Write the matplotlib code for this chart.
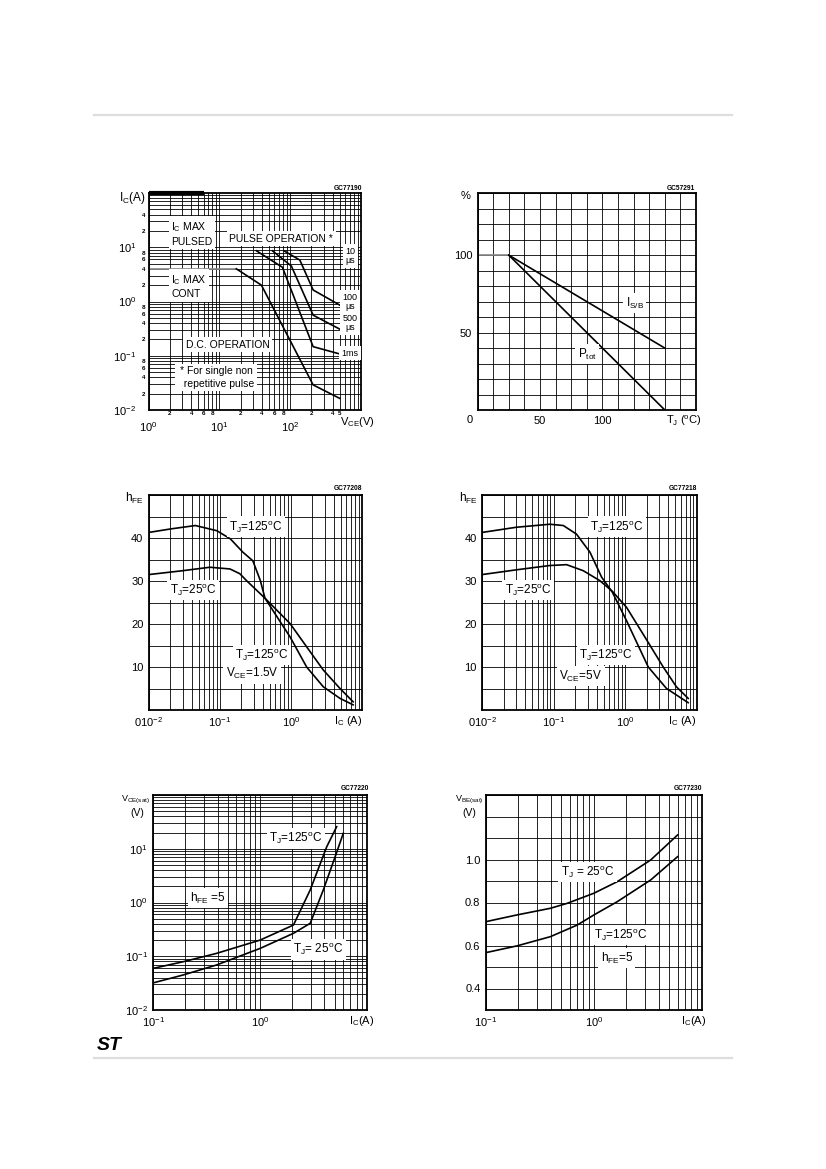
import numpy as np
import matplotlib
matplotlib.use('Agg')
import matplotlib.pyplot as plt
from matplotlib.ticker import LogLocator, FixedLocator, FuncFormatter, NullFormatter
from matplotlib.lines import Line2D

plt.rcParams['font.family'] = ['Liberation Sans', 'DejaVu Sans']
plt.rcParams['mathtext.default'] = 'regular'

# ---------------- data ----------------
# Chart 1: safe operating area (VCE [V] vs IC [A])
soa_icmax_cont_v = [1, 17.4]
soa_icmax_cont_i = [4, 4]
soa_dc_v = [17.4, 39.3, 211, 500]
soa_dc_i = [4, 2.0, 0.029, 0.0164]
soa_1ms_v = [33.4, 77.8, 211, 500]
soa_1ms_i = [8.6, 4.27, 0.147, 0.108]
soa_500us_v = [56.2, 104, 211, 500]
soa_500us_i = [8.6, 4.5, 0.56, 0.31]
soa_100us_v = [82, 137, 211, 500]
soa_100us_i = [8.6, 5.8, 1.63, 0.86]
soa_pulsed_top_v = [1, 6]
soa_pulsed_top_i = [100, 100]

# Chart 2: derating (TJ [C] vs %)
der_flat_t = [0, 25]
der_flat_p = [100, 100]
der_ptot_t = [25, 150]
der_ptot_p = [100, 0]
der_isb_t = [25, 150]
der_isb_p = [100, 40]

# Chart 3: hFE, VCE = 1.5 V
h15_ic_125 = [0.01, 0.02, 0.045, 0.09, 0.14, 0.21, 0.29, 0.37, 0.43, 0.97, 1.66, 2.85, 4.9, 7.5]
h15_125 = [41.3, 42.1, 42.9, 41.7, 39.8, 36.7, 34.7, 30.1, 26.0, 17.0, 10.0, 5.4, 2.7, 1.2]
h15_ic_25 = [0.01, 0.03, 0.072, 0.138, 0.19, 0.236, 0.43, 0.97, 1.66, 2.85, 4.9, 7.5]
h15_25 = [31.5, 32.4, 33.2, 32.8, 31.7, 30.1, 26.0, 20.1, 14.7, 9.3, 5.0, 1.9]

# Chart 4: hFE, VCE = 5 V
h5_ic_125 = [0.01, 0.03, 0.088, 0.136, 0.208, 0.321, 0.467, 0.66, 1.04, 2.1, 3.78, 7.6]
h5_125 = [41.3, 42.5, 43.2, 42.9, 40.9, 36.7, 30.9, 27.4, 20.8, 10.0, 5.0, 1.7]
h5_ic_25 = [0.01, 0.03, 0.088, 0.151, 0.258, 0.44, 0.66, 1.04, 1.88, 3.4, 5.2, 7.6]
h5_25 = [31.5, 32.6, 33.6, 33.8, 32.4, 30.1, 27.6, 23.9, 17.0, 10.0, 5.4, 2.7]

# Chart 5: VCE(sat), hFE = 5
vce_ic_125 = [0.1, 0.19, 0.39, 1.0, 2.05, 2.94, 4.2, 5.2]
vce_125 = [0.0596, 0.079, 0.113, 0.2, 0.381, 1.71, 10.9, 25.7]
vce_ic_25 = [0.1, 0.19, 0.39, 1.0, 2.05, 2.94, 3.9, 5.1, 6.0]
vce_25 = [0.032, 0.0448, 0.0687, 0.14, 0.267, 0.41, 1.71, 7.65, 19.4]

# Chart 6: VBE(sat), hFE = 5
vbe_ic_25 = [0.1, 0.193, 0.395, 0.565, 1.0, 1.65, 3.37, 5.97]
vbe_25 = [0.711, 0.742, 0.773, 0.796, 0.843, 0.897, 0.998, 1.114]
vbe_ic_125 = [0.1, 0.193, 0.395, 0.70, 1.0, 1.65, 3.37, 5.97]
vbe_125 = [0.567, 0.598, 0.641, 0.695, 0.742, 0.804, 0.905, 1.013]

# ---------------- figure ----------------
W, H = 826, 1169
fig = plt.figure(figsize=(W / 100, H / 100), dpi=100)
fig.patch.set_facecolor('white')


def add_ax(l, r, t, b):
    return fig.add_axes([l / W, 1 - b / H, (r - l) / W, (b - t) / H])


def ftxt(px, py, s, **kw):
    kw.setdefault('fontsize', 7.5)
    fig.text(px / W, 1 - py / H, s, **kw)


def style(ax):
    for s in ax.spines.values():
        s.set_linewidth(1.3)
        s.set_color('black')
    ax.tick_params(which='both', length=0, labelsize=7.5, pad=4)
    ax.grid(which='both', color='black', lw=0.6)
    ax.set_axisbelow(True)


BOX = dict(facecolor='white', edgecolor='none', pad=1.8)
LW = 1.2


def lbl(ax, x, y, s, ha='center', fs=7.5, **kw):
    ax.text(x, y, s, ha=ha, va='center', fontsize=fs, bbox=BOX, zorder=5, **kw)


# page rules
fig.add_artist(Line2D([94 / W, 732 / W], [1 - 115 / H, 1 - 115 / H], color='#dddddd', lw=1.6))
fig.add_artist(Line2D([94 / W, 732 / W], [1 - 1058 / H, 1 - 1058 / H], color='#dddddd', lw=1.6))
ftxt(109, 1046, 'ST', fontsize=14, fontweight='black', fontstyle='italic', ha='center', va='center')

# ---------- Chart 1: SOA ----------
ax1 = add_ax(148.5, 361, 193, 410)
ax1.set_xscale('log')
ax1.set_yscale('log')
ax1.set_xlim(1, 1000)
ax1.set_ylim(0.01, 100)
style(ax1)
ax1.xaxis.set_major_locator(FixedLocator([1, 10, 100]))
ax1.xaxis.set_minor_locator(LogLocator(base=10, subs=np.arange(2, 10), numticks=30))
ax1.yaxis.set_major_locator(FixedLocator([0.01, 0.1, 1, 10]))
ax1.yaxis.set_minor_locator(LogLocator(base=10, subs=np.arange(2, 10), numticks=30))


def _mant(v):
    return int(round(v / 10 ** np.floor(np.log10(v) + 1e-9)))


def soa_xminor(v, pos):
    m = _mant(v)
    if v < 100:
        return str(m) if m in (2, 4, 6, 8) else ''
    return str(m) if m in (2, 4, 5) else ''


def soa_yminor(v, pos):
    m = _mant(v)
    if v >= 10:
        return str(m) if m in (2, 4) else ''
    return str(m) if m in (2, 4, 6, 8) else ''


ax1.xaxis.set_major_formatter(FuncFormatter(lambda v, p: r'$10^{%d}$' % round(np.log10(v))))
ax1.yaxis.set_major_formatter(FuncFormatter(lambda v, p: r'$10^{%d}$' % round(np.log10(v))))
ax1.xaxis.set_minor_formatter(FuncFormatter(soa_xminor))
ax1.yaxis.set_minor_formatter(FuncFormatter(soa_yminor))
ax1.tick_params(axis='both', which='major', labelsize=8)
ax1.tick_params(axis='x', which='major', pad=7)
ax1.tick_params(axis='y', which='major', pad=9)
ax1.tick_params(axis='x', which='minor', labelsize=4.5, pad=1)
ax1.tick_params(axis='y', which='minor', labelsize=4.5, pad=2)
for t in ax1.get_xminorticklabels() + ax1.get_yminorticklabels():
    t.set_fontweight('bold')

ax1.plot(soa_icmax_cont_v, soa_icmax_cont_i, color='#888888', lw=LW)
ax1.plot(soa_dc_v, soa_dc_i, color='black', lw=LW)
ax1.plot(soa_1ms_v, soa_1ms_i, color='black', lw=LW)
ax1.plot(soa_500us_v, soa_500us_i, color='black', lw=LW)
ax1.plot(soa_100us_v, soa_100us_i, color='black', lw=LW)
ax1.plot(soa_pulsed_top_v, soa_pulsed_top_i, color='black', lw=3, clip_on=False, solid_capstyle='butt')

lbl(ax1, 2.08, 17.9, 'I$_C$ MAX\nPULSED', ha='left', linespacing=1.3)
lbl(ax1, 74.8, 14.2, 'PULSE OPERATION *')
lbl(ax1, 2.08, 1.93, 'I$_C$ MAX\nCONT', ha='left', linespacing=1.3)
lbl(ax1, 13.1, 0.158, 'D.C. OPERATION')
lbl(ax1, 9.0, 0.0397, '* For single non\n  repetitive pulse', linespacing=1.3)
lbl(ax1, 700, 6.9, '10\n\u03bcs', fs=6.5, linespacing=1.0)
lbl(ax1, 700, 0.98, '100\n\u03bcs', fs=6.5, linespacing=1.0)
lbl(ax1, 700, 0.40, '500\n\u03bcs', fs=6.5, linespacing=1.0)
lbl(ax1, 700, 0.112, '1ms', fs=6.5)

ftxt(146, 198, 'I$_C$(A)', ha='right', va='center', fontsize=8.5)
ftxt(357, 422, 'V$_{CE}$(V)', ha='center', va='center', fontsize=8)
ftxt(362, 188, 'GC77190', ha='right', va='center', fontsize=4.8, fontweight='bold')

# ---------- Chart 2: derating ----------
ax2 = add_ax(477.7, 696, 193.3, 410)
ax2.set_xlim(0, 175)
ax2.set_ylim(0, 140)
style(ax2)
ax2.tick_params(labelsize=8)
xt2 = np.arange(0, 175.1, 12.5)
ax2.set_xticks(xt2)
ax2.set_xticklabels(['50' if abs(v - 50) < 1e-6 else '100' if abs(v - 100) < 1e-6 else '' for v in xt2])
yt2 = np.arange(0, 140.1, 10)
ax2.set_yticks(yt2)
ax2.set_yticklabels(['50' if v == 50 else '100' if v == 100 else '' for v in yt2])
ax2.plot(der_flat_t, der_flat_p, color='#888888', lw=LW)
ax2.plot(der_ptot_t, der_ptot_p, color='black', lw=LW)
ax2.plot(der_isb_t, der_isb_p, color='black', lw=LW)
lbl(ax2, 126, 69, 'I$_{S/B}$', fs=8.5)
lbl(ax2, 88, 36, 'P$_{tot}$', fs=8.5)
ftxt(466, 196, '%', ha='center', va='center', fontsize=8)
ftxt(470, 420, '0', ha='center', va='center', fontsize=8)
ftxt(684, 421, 'T$_J$ ($^o$C)', ha='center', va='center', fontsize=8)
ftxt(695, 188, 'GC57291', ha='right', va='center', fontsize=4.8, fontweight='bold')


# ---------- Charts 3 & 4: hFE ----------
def hfe_axes(l, r):
    ax = add_ax(l, r, 495, 710)
    ax.set_xscale('log')
    ax.set_xlim(0.01, 10)
    ax.set_ylim(0, 50)
    style(ax)
    ax.tick_params(labelsize=8)
    ax.set_xticks([0.01, 0.1, 1, 10])
    ax.set_xticklabels([r'$010^{-2}$', r'$10^{-1}$', r'$10^{0}$', ''])
    ax.xaxis.set_minor_locator(LogLocator(base=10, subs=np.arange(2, 10), numticks=30))
    ax.xaxis.set_minor_formatter(NullFormatter())
    yt = np.arange(0, 50.1, 5)
    ax.set_yticks(yt)
    ax.set_yticklabels([str(int(v)) if v in (10, 20, 30, 40) else '' for v in yt])
    return ax


ax3 = hfe_axes(149, 362)
ax3.plot(h15_ic_125, h15_125, color='black', lw=LW)
ax3.plot(h15_ic_25, h15_25, color='black', lw=LW)
lbl(ax3, 0.321, 42.6, 'T$_J$=125$^o$C', fs=8.5)
lbl(ax3, 0.0417, 27.9, 'T$_J$=25$^o$C', fs=8.5)
lbl(ax3, 0.39, 12.8, 'T$_J$=125$^o$C', fs=8.5)
lbl(ax3, 0.282, 8.4, 'V$_{CE}$=1.5V', fs=8.5)
ftxt(134, 498, 'h$_{FE}$', ha='center', va='center', fontsize=8.5)
ftxt(348, 721, 'I$_C$ (A)', ha='center', va='center', fontsize=8)
ftxt(362, 488, 'GC77208', ha='right', va='center', fontsize=4.8, fontweight='bold')

ax4 = hfe_axes(482.3, 696.7)
ax4.plot(h5_ic_125, h5_125, color='black', lw=LW)
ax4.plot(h5_ic_25, h5_25, color='black', lw=LW)
lbl(ax4, 0.764, 42.6, 'T$_J$=125$^o$C', fs=8.5)
lbl(ax4, 0.0435, 27.9, 'T$_J$=25$^o$C', fs=8.5)
lbl(ax4, 0.537, 12.8, 'T$_J$=125$^o$C', fs=8.5)
lbl(ax4, 0.24, 7.9, 'V$_{CE}$=5V', fs=8.5)
ftxt(468, 498, 'h$_{FE}$', ha='center', va='center', fontsize=8.5)
ftxt(682, 721, 'I$_C$ (A)', ha='center', va='center', fontsize=8)
ftxt(697, 488, 'GC77218', ha='right', va='center', fontsize=4.8, fontweight='bold')

# ---------- Chart 5: VCE(sat) ----------
ax5 = add_ax(153.3, 367, 795, 1010)
ax5.set_xscale('log')
ax5.set_yscale('log')
ax5.set_xlim(0.1, 10)
ax5.set_ylim(0.01, 100)
style(ax5)
ax5.tick_params(labelsize=8)
ax5.set_xticks([0.1, 1, 10])
ax5.set_xticklabels([r'$10^{-1}$', r'$10^{0}$', ''])
ax5.set_yticks([0.01, 0.1, 1, 10, 100])
ax5.set_yticklabels([r'$10^{-2}$', r'$10^{-1}$', r'$10^{0}$', r'$10^{1}$', ''])
ax5.xaxis.set_minor_locator(LogLocator(base=10, subs=np.arange(2, 10), numticks=30))
ax5.yaxis.set_minor_locator(LogLocator(base=10, subs=np.arange(2, 10), numticks=30))
ax5.xaxis.set_minor_formatter(NullFormatter())
ax5.yaxis.set_minor_formatter(NullFormatter())
ax5.plot(vce_ic_125, vce_125, color='black', lw=LW)
ax5.plot(vce_ic_25, vce_25, color='black', lw=LW)
lbl(ax5, 2.17, 15.8, 'T$_J$=125$^o$C', fs=8.5)
lbl(ax5, 0.325, 1.21, 'h$_{FE}$ =5', fs=8.5)
lbl(ax5, 3.48, 0.136, 'T$_J$= 25$^o$C', fs=8.5)
ftxt(136, 800, 'V$_{CE(sat)}$', ha='center', va='center', fontsize=6.5)
ftxt(137, 813, '(V)', ha='center', va='center', fontsize=7.5)
ftxt(362, 1021, 'I$_C$(A)', ha='center', va='center', fontsize=8)
ftxt(369, 788, 'GC77220', ha='right', va='center', fontsize=4.8, fontweight='bold')

# ---------- Chart 6: VBE(sat) ----------
ax6 = add_ax(486, 701.7, 795, 1010)
ax6.set_xscale('log')
ax6.set_xlim(0.1, 10)
ax6.set_ylim(0.3, 1.3)
style(ax6)
ax6.tick_params(labelsize=8)
ax6.set_xticks([0.1, 1, 10])
ax6.set_xticklabels([r'$10^{-1}$', r'$10^{0}$', ''])
ax6.xaxis.set_minor_locator(LogLocator(base=10, subs=np.arange(2, 10), numticks=30))
ax6.xaxis.set_minor_formatter(NullFormatter())
yt6 = np.round(np.arange(0.3, 1.301, 0.1), 2)
ax6.set_yticks(yt6)
ax6.set_yticklabels(['%.1f' % v if round(v * 10) in (4, 6, 8, 10) else '' for v in yt6])
ax6.plot(vbe_ic_25, vbe_25, color='black', lw=LW)
ax6.plot(vbe_ic_125, vbe_125, color='black', lw=LW)
lbl(ax6, 0.873, 0.942, 'T$_J$ = 25$^o$C', fs=8.5)
lbl(ax6, 1.77, 0.649, 'T$_J$=125$^o$C', fs=8.5)
lbl(ax6, 1.63, 0.542, 'h$_{FE}$=5', fs=8.5)
ftxt(469, 800, 'V$_{BE(sat)}$', ha='center', va='center', fontsize=6.5)
ftxt(469, 813, '(V)', ha='center', va='center', fontsize=7.5)
ftxt(694, 1021, 'I$_C$(A)', ha='center', va='center', fontsize=8)
ftxt(702, 788, 'GC77230', ha='right', va='center', fontsize=4.8, fontweight='bold')

fig.savefig('out.png', dpi=100, facecolor='white')
